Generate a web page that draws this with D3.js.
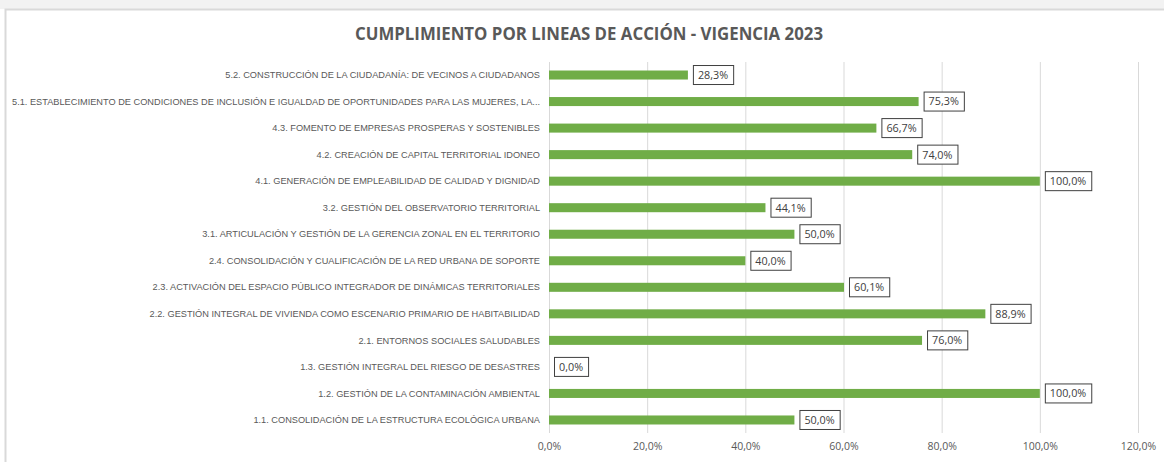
<!DOCTYPE html>
<html>
<head>
<meta charset="utf-8">
<script src="https://cdn.jsdelivr.net/npm/d3@7"></script>
<style>
  html, body { margin: 0; padding: 0; background: #ffffff; }
  svg { display: block; }
</style>
</head>
<body>
<svg id="chart" width="1164" height="462"></svg>
<script>
const title = "CUMPLIMIENTO POR LINEAS DE ACCIÓN - VIGENCIA 2023";
const categories = [
  "5.2. CONSTRUCCIÓN DE LA CIUDADANÍA: DE VECINOS A CIUDADANOS",
  "5.1. ESTABLECIMIENTO DE CONDICIONES DE INCLUSIÓN E IGUALDAD DE OPORTUNIDADES PARA LAS MUJERES, LA...",
  "4.3. FOMENTO DE EMPRESAS PROSPERAS Y SOSTENIBLES",
  "4.2. CREACIÓN DE CAPITAL TERRITORIAL IDONEO",
  "4.1. GENERACIÓN  DE EMPLEABILIDAD DE CALIDAD Y DIGNIDAD",
  "3.2. GESTIÓN DEL OBSERVATORIO TERRITORIAL",
  "3.1. ARTICULACIÓN Y GESTIÓN DE LA GERENCIA ZONAL EN EL TERRITORIO",
  "2.4. CONSOLIDACIÓN Y CUALIFICACIÓN DE LA RED URBANA DE SOPORTE",
  "2.3. ACTIVACIÓN DEL ESPACIO PÚBLICO INTEGRADOR DE DINÁMICAS TERRITORIALES",
  "2.2. GESTIÓN INTEGRAL DE VIVIENDA COMO ESCENARIO PRIMARIO DE HABITABILIDAD",
  "2.1. ENTORNOS SOCIALES SALUDABLES",
  "1.3. GESTIÓN INTEGRAL DEL RIESGO DE DESASTRES",
  "1.2. GESTIÓN DE LA CONTAMINACIÓN AMBIENTAL",
  "1.1. CONSOLIDACIÓN DE LA ESTRUCTURA ECOLÓGICA URBANA"
];
const values = [0.283, 0.753, 0.667, 0.740, 1.000, 0.441, 0.500, 0.400, 0.601, 0.889, 0.760, 0.000, 1.000, 0.500];
const tickValues = [0, 0.2, 0.4, 0.6, 0.8, 1.0, 1.2];

const svg = d3.select("#chart");
const fmt = v => d3.format(".1f")(v * 100).replace(".", ",") + "%";

// outer chart frame
svg.append("rect").attr("x", 0).attr("y", 0).attr("width", 1164).attr("height", 9).attr("fill", "#f2f2f2");
svg.append("path").attr("d", "M5.5,470 V9.5 H1170").attr("fill", "none").attr("stroke", "#d9d9d9").attr("stroke-width", 2);

const x = d3.scaleLinear().domain([0, 1.2]).range([549, 1138]);
const y = d3.scaleBand().domain(categories).range([61.75, 433.25]).paddingInner(0.66).paddingOuter(0.33);

// gridlines
svg.append("g").selectAll("line").data(tickValues).join("line")
  .attr("x1", d => x(d) + 0.5).attr("x2", d => x(d) + 0.5)
  .attr("y1", 62).attr("y2", 433)
  .attr("stroke", "#d9d9d9").attr("stroke-width", 1);

// x axis labels
const xAxis = d3.axisBottom(x).tickValues(tickValues).tickFormat(fmt).tickSize(0).tickPadding(0);
const gx = svg.append("g").attr("transform", "translate(0,443)").call(xAxis);
gx.select(".domain").remove();
gx.selectAll("text").attr("font-family", "'Open Sans', sans-serif").attr("font-size", "10.5px").attr("fill", "#595959");

// y axis labels
const yAxis = d3.axisLeft(y).tickSize(0).tickPadding(0);
const gy = svg.append("g").attr("transform", "translate(540,0)").call(yAxis);
gy.select(".domain").remove();
gy.selectAll("text")
  .attr("font-family", "'Liberation Sans', Arial, sans-serif")
  .attr("font-size", "9.8px")
  .attr("fill", "#595959")
  .each(function () {
    const w = this.getComputedTextLength();
    d3.select(this).attr("textLength", w * 0.94).attr("lengthAdjust", "spacingAndGlyphs");
  });

// bars
svg.append("g").selectAll("rect").data(values).join("rect")
  .attr("x", x(0))
  .attr("y", (d, i) => y(categories[i]))
  .attr("width", d => x(d) - x(0))
  .attr("height", y.bandwidth())
  .attr("fill", "#70ad47");

// data labels
const lab = svg.append("g").selectAll("g").data(values).join("g")
  .attr("transform", (d, i) => `translate(${x(d) + 5},${y(categories[i]) + y.bandwidth() / 2})`);
lab.append("rect").attr("class", "box");
lab.append("text")
  .text(d => fmt(d))
  .attr("font-family", "'Open Sans', sans-serif")
  .attr("font-size", "10.8px")
  .attr("fill", "#404040")
  .attr("dy", "0.36em");
lab.each(function () {
  const g = d3.select(this);
  const t = g.select("text");
  const w = t.node().getComputedTextLength();
  t.attr("x", 5);
  g.select("rect.box")
    .attr("x", 0.5).attr("y", -9.5)
    .attr("width", w + 10).attr("height", 19)
    .attr("fill", "#ffffff").attr("stroke", "#404040").attr("stroke-width", 1);
});

// title
svg.append("text")
  .attr("x", 589).attr("y", 40)
  .attr("text-anchor", "middle")
  .attr("font-family", "'Open Sans', sans-serif")
  .attr("font-weight", "bold")
  .attr("font-size", "17.5px")
  .attr("fill", "#595959")
  .attr("textLength", 468)
  .attr("lengthAdjust", "spacingAndGlyphs")
  .text(title);
</script>
</body>
</html>
